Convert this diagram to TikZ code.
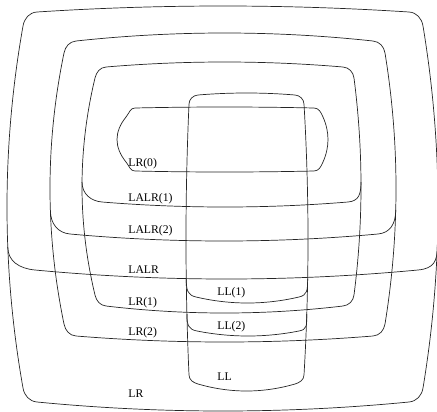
\documentclass[tikz,border=0pt]{standalone}
\usepackage{fontspec}
\setmainfont{Liberation Serif}
\usetikzlibrary{intersections}

% 圆角半径
\newcommand{\framerad}{12}
% 鼓形框：名字, 左, 上, 右, 下, 然后左/上/右/下边向外鼓出的量
\newcommand{\pillow}[9]{%
  \pgfmathsetmacro\plxa{#2+\framerad}
  \pgfmathsetmacro\plxb{#4-\framerad}
  \pgfmathsetmacro\plya{#3+\framerad}
  \pgfmathsetmacro\plyb{#5-\framerad}
  \pgfmathsetmacro\plxm{(#2+#4)/2}
  \pgfmathsetmacro\plym{(#3+#5)/2}
  \pgfmathsetmacro\plhw{\plxm-\plxa}
  \pgfmathsetmacro\plhh{\plym-\plya}
  \pgfmathsetmacro\plql{4/3*#6}
  \pgfmathsetmacro\plqt{4/3*#7}
  \pgfmathsetmacro\plqr{4/3*#8}
  \pgfmathsetmacro\plqb{4/3*#9}
  \pgfmathsetmacro\plsl{2*#6/\plhh}
  \pgfmathsetmacro\plst{2*#7/\plhw}
  \pgfmathsetmacro\plsr{2*#8/\plhh}
  \pgfmathsetmacro\plsb{2*#9/\plhw}
  \pgfmathsetmacro\plk{0.55*\framerad}
  \draw[name path=#1]
    (\plxa,#3) .. controls ({\plxm-\plhw/3},{#3-\plqt}) and ({\plxm+\plhw/3},{#3-\plqt}) .. (\plxb,#3)
    .. controls ({\plxb+\plk},{#3+\plk*\plst}) and ({#4-\plk*\plsr},{\plya-\plk}) .. (#4,\plya)
    .. controls ({#4+\plqr},{\plym-\plhh/3}) and ({#4+\plqr},{\plym+\plhh/3}) .. (#4,\plyb)
    .. controls ({#4-\plk*\plsr},{\plyb+\plk}) and ({\plxb+\plk},{#5-\plk*\plsb}) .. (\plxb,#5)
    .. controls ({\plxm+\plhw/3},{#5+\plqb}) and ({\plxm-\plhw/3},{#5+\plqb}) .. (\plxa,#5)
    .. controls ({\plxa-\plk},{#5-\plk*\plsb}) and ({#2+\plk*\plsl},{\plyb+\plk}) .. (#2,\plyb)
    .. controls ({#2-\plql},{\plym+\plhh/3}) and ({#2-\plql},{\plym-\plhh/3}) .. (#2,\plya)
    .. controls ({#2+\plk*\plsl},{\plya-\plk}) and ({\plxa-\plk},{#3+\plk*\plst}) .. (\plxa,#3) -- cycle;}
% 子类的下边：所在框, 离开两边的 y, 下边 x 从, 到, 下边 y, 鼓出量, 拐角 dx, dy
\newcommand{\cutline}[8]{%
  \pgfmathsetmacro\clm{(#3+#4)/2}
  \pgfmathsetmacro\clh{(#4-#3)/2}
  \pgfmathsetmacro\cls{2*#6/\clh}
  \path[name path=h] (-30,#2) -- (470,#2);
  \path[name intersections={of=#1 and h, sort by=h, name=c}];
  \draw (c-1) .. controls +(0,#8) and ({#3-#7},{#5-#7*\cls}) .. (#3,#5)
    .. controls ({\clm-\clh/3},{#5+4/3*#6}) and ({\clm+\clh/3},{#5+4/3*#6}) .. (#4,#5)
    .. controls ({#4+#7},{#5-#7*\cls}) and +(0,#8) .. (c-2);}

\begin{document}
\begin{tikzpicture}[x=0.03cm, y=-0.03cm, line width=0.6pt, color=black!85,
  lbl/.style={anchor=base west, inner sep=0pt, text=black}]
\useasboundingbox (0,0) rectangle (437,412);

% LR 外框
\renewcommand{\framerad}{14}
\pillow{pLR}{23}{12}{423}{402}{16}{6}{15}{9}
% LR(2)
\renewcommand{\framerad}{12}
\pillow{pLRtwo}{64}{41}{385}{336}{14}{8}{11}{6}
% LR(1)
\renewcommand{\framerad}{11}
\pillow{pLRone}{95}{67}{354}{306}{13}{5}{7}{7}
% LR(0) 与 LL
\renewcommand{\framerad}{9}
\pillow{pLRzero}{126}{108}{323}{171}{9}{1}{5}{1}
\pillow{pLL}{189}{95}{304}{384}{3}{2}{4}{7}

% LALR, LALR(2), LALR(1) 的下边
\cutline{pLR}{247}{35}{418}{270}{9}{16}{14}
\cutline{pLRtwo}{210}{70}{378}{234}{7}{12}{14}
\cutline{pLRone}{182}{102}{348}{202}{5}{11}{12}
% LL(1), LL(2) 的下边
\cutline{pLL}{279}{196}{299}{297}{6}{8}{12}
\cutline{pLL}{314}{197}{299}{331}{5}{8}{12}

% 标注
\node[lbl] (lr0)   at (128,166) {LR(0)};
\node[lbl] (lalr1) at (128,201) {LALR(1)};
\node[lbl] (lalr2) at (128,233) {LALR(2)};
\node[lbl] (lalr)  at (128,273) {LALR};
\node[lbl] (lr1)   at (128,305) {LR(1)};
\node[lbl] (lr2)   at (128,335) {LR(2)};
\node[lbl] (lr)    at (128,397) {LR};
\node[lbl] (ll1)   at (217,295) {LL(1)};
\node[lbl] (ll2)   at (217,329) {LL(2)};
\node[lbl] (ll)    at (217,380) {LL};

\end{tikzpicture}
\end{document}
